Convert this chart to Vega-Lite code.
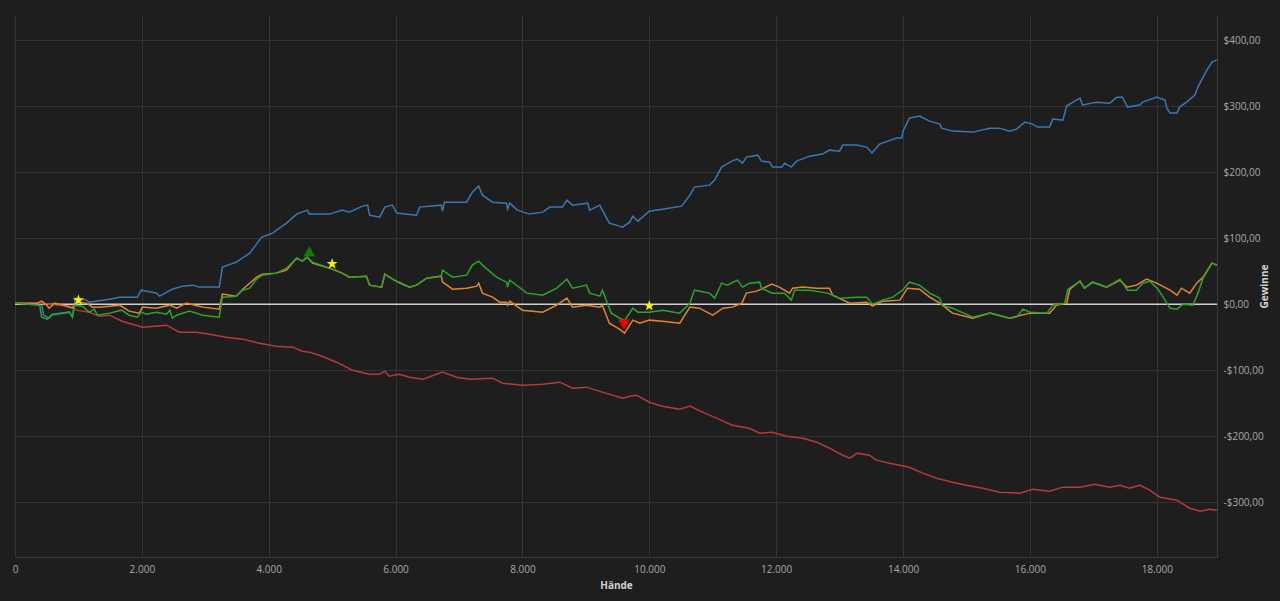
{
  "$schema": "https://vega.github.io/schema/vega-lite/v6.json",
  "width": 1202,
  "height": 542,
  "autosize": {"type": "none"},
  "padding": {"left": 15, "top": 15, "right": 63, "bottom": 44},
  "background": "#1e1e1e",
  "datasets": {
    "showdown": [
      {"hand": 0, "wert": 0}, {"hand": 420, "wert": 0}, {"hand": 450, "wert": -16.7}, {"hand": 540, "wert": -21.2}, {"hand": 590, "wert": -15.2}, {"hand": 860, "wert": -12.1}, {"hand": 905, "wert": -19.7}, {"hand": 950, "wert": 9.1}, {"hand": 1130, "wert": 6.1}, {"hand": 1170, "wert": 3},
      {"hand": 1490, "wert": 7.6}, {"hand": 1650, "wert": 10.6}, {"hand": 1930, "wert": 10.6}, {"hand": 1990, "wert": 21.2}, {"hand": 2230, "wert": 16.7}, {"hand": 2280, "wert": 12.1}, {"hand": 2480, "wert": 22.7}, {"hand": 2640, "wert": 27.3}, {"hand": 2800, "wert": 28.8}, {"hand": 2910, "wert": 25.8},
      {"hand": 3220, "wert": 25.8}, {"hand": 3270, "wert": 56.1}, {"hand": 3490, "wert": 63.6}, {"hand": 3700, "wert": 77.3}, {"hand": 3820, "wert": 92.4}, {"hand": 3890, "wert": 101.5}, {"hand": 4060, "wert": 107.6}, {"hand": 4280, "wert": 122.7}, {"hand": 4440, "wert": 136.4}, {"hand": 4610, "wert": 142.4},
      {"hand": 4640, "wert": 136.4}, {"hand": 4960, "wert": 136.4}, {"hand": 5160, "wert": 142.4}, {"hand": 5270, "wert": 139.4}, {"hand": 5480, "wert": 148.5}, {"hand": 5560, "wert": 150}, {"hand": 5590, "wert": 134.8}, {"hand": 5750, "wert": 131.8}, {"hand": 5830, "wert": 147}, {"hand": 5950, "wert": 150},
      {"hand": 6020, "wert": 137.9}, {"hand": 6330, "wert": 134.8}, {"hand": 6380, "wert": 147}, {"hand": 6720, "wert": 150}, {"hand": 6740, "wert": 140.9}, {"hand": 6770, "wert": 154.5}, {"hand": 7120, "wert": 154.5}, {"hand": 7210, "wert": 169.7}, {"hand": 7310, "wert": 178.8}, {"hand": 7370, "wert": 165.1},
      {"hand": 7530, "wert": 154.5}, {"hand": 7750, "wert": 153}, {"hand": 7765, "wert": 143.9}, {"hand": 7800, "wert": 153}, {"hand": 7920, "wert": 142.4}, {"hand": 8110, "wert": 136.4}, {"hand": 8320, "wert": 139.4}, {"hand": 8430, "wert": 147}, {"hand": 8630, "wert": 147}, {"hand": 8700, "wert": 157.6},
      {"hand": 8790, "wert": 150}, {"hand": 9030, "wert": 153}, {"hand": 9060, "wert": 142.4}, {"hand": 9220, "wert": 150}, {"hand": 9260, "wert": 142.4}, {"hand": 9370, "wert": 122.7}, {"hand": 9530, "wert": 118.2}, {"hand": 9580, "wert": 116.7}, {"hand": 9690, "wert": 124.2}, {"hand": 9740, "wert": 133.3},
      {"hand": 9820, "wert": 125.7}, {"hand": 10000, "wert": 140.9}, {"hand": 10210, "wert": 143.9}, {"hand": 10510, "wert": 148.5}, {"hand": 10640, "wert": 165.1}, {"hand": 10710, "wert": 177.3}, {"hand": 10950, "wert": 180.3}, {"hand": 11030, "wert": 187.9}, {"hand": 11140, "wert": 207.6}, {"hand": 11300, "wert": 216.6},
      {"hand": 11390, "wert": 219.7}, {"hand": 11470, "wert": 213.6}, {"hand": 11530, "wert": 222.7}, {"hand": 11710, "wert": 225.7}, {"hand": 11770, "wert": 216.6}, {"hand": 11900, "wert": 215.1}, {"hand": 11940, "wert": 207.6}, {"hand": 12090, "wert": 207.6}, {"hand": 12130, "wert": 213.6}, {"hand": 12240, "wert": 207.6},
      {"hand": 12320, "wert": 216.6}, {"hand": 12530, "wert": 224.2}, {"hand": 12730, "wert": 227.3}, {"hand": 12840, "wert": 233.3}, {"hand": 13000, "wert": 231.8}, {"hand": 13050, "wert": 240.9}, {"hand": 13270, "wert": 240.9}, {"hand": 13430, "wert": 237.9}, {"hand": 13510, "wert": 228.8}, {"hand": 13630, "wert": 242.4},
      {"hand": 13900, "wert": 251.5}, {"hand": 13980, "wert": 251.5}, {"hand": 14000, "wert": 262.1}, {"hand": 14100, "wert": 281.8}, {"hand": 14260, "wert": 284.8}, {"hand": 14420, "wert": 277.2}, {"hand": 14580, "wert": 272.7}, {"hand": 14610, "wert": 266.6}, {"hand": 14780, "wert": 262.1}, {"hand": 15100, "wert": 260.6},
      {"hand": 15370, "wert": 266.6}, {"hand": 15520, "wert": 266.6}, {"hand": 15680, "wert": 262.1}, {"hand": 15790, "wert": 265.1}, {"hand": 15920, "wert": 275.7}, {"hand": 16040, "wert": 272.7}, {"hand": 16120, "wert": 268.2}, {"hand": 16310, "wert": 268.2}, {"hand": 16360, "wert": 280.3}, {"hand": 16520, "wert": 278.8},
      {"hand": 16580, "wert": 300}, {"hand": 16680, "wert": 306}, {"hand": 16790, "wert": 312.1}, {"hand": 16830, "wert": 301.5}, {"hand": 16970, "wert": 304.5}, {"hand": 17050, "wert": 306}, {"hand": 17260, "wert": 304.5}, {"hand": 17370, "wert": 313.6}, {"hand": 17460, "wert": 313.6}, {"hand": 17540, "wert": 298.5},
      {"hand": 17730, "wert": 301.5}, {"hand": 17780, "wert": 306}, {"hand": 18000, "wert": 313.6}, {"hand": 18130, "wert": 309.1}, {"hand": 18160, "wert": 297}, {"hand": 18210, "wert": 289.4}, {"hand": 18320, "wert": 289.4}, {"hand": 18360, "wert": 298.5}, {"hand": 18470, "wert": 306}, {"hand": 18600, "wert": 316.6},
      {"hand": 18650, "wert": 328.8}, {"hand": 18730, "wert": 343.9}, {"hand": 18790, "wert": 354.5}, {"hand": 18870, "wert": 366.6}, {"hand": 18950, "wert": 369.7}
    ],
    "ohneShowdown": [
      {"hand": 0, "wert": 1.5}, {"hand": 390, "wert": 1.5}, {"hand": 700, "wert": -1.5}, {"hand": 905, "wert": -3}, {"hand": 970, "wert": -9.1}, {"hand": 1170, "wert": -12.1}, {"hand": 1330, "wert": -18.2}, {"hand": 1490, "wert": -16.7}, {"hand": 1690, "wert": -25.8}, {"hand": 2010, "wert": -34.8},
      {"hand": 2390, "wert": -31.8}, {"hand": 2590, "wert": -42.4}, {"hand": 2860, "wert": -42.4}, {"hand": 3070, "wert": -45.5}, {"hand": 3330, "wert": -50}, {"hand": 3590, "wert": -53}, {"hand": 3850, "wert": -59.1}, {"hand": 4120, "wert": -63.6}, {"hand": 4380, "wert": -65.1}, {"hand": 4530, "wert": -71.2},
      {"hand": 4640, "wert": -72.7}, {"hand": 4800, "wert": -77.3}, {"hand": 5070, "wert": -87.9}, {"hand": 5320, "wert": -100}, {"hand": 5590, "wert": -106.1}, {"hand": 5750, "wert": -106.1}, {"hand": 5830, "wert": -101.5}, {"hand": 5900, "wert": -109.1}, {"hand": 6060, "wert": -106.1}, {"hand": 6220, "wert": -110.6},
      {"hand": 6430, "wert": -113.6}, {"hand": 6740, "wert": -103}, {"hand": 6960, "wert": -110.6}, {"hand": 7170, "wert": -113.6}, {"hand": 7530, "wert": -112.1}, {"hand": 7690, "wert": -119.7}, {"hand": 8000, "wert": -122.7}, {"hand": 8320, "wert": -121.2}, {"hand": 8590, "wert": -118.2}, {"hand": 8790, "wert": -127.3},
      {"hand": 9010, "wert": -125.7}, {"hand": 9260, "wert": -133.3}, {"hand": 9580, "wert": -142.4}, {"hand": 9690, "wert": -139.4}, {"hand": 9800, "wert": -137.9}, {"hand": 10000, "wert": -148.5}, {"hand": 10210, "wert": -154.5}, {"hand": 10480, "wert": -159.1}, {"hand": 10640, "wert": -154.5}, {"hand": 10840, "wert": -163.6},
      {"hand": 11060, "wert": -172.7}, {"hand": 11310, "wert": -183.3}, {"hand": 11580, "wert": -187.9}, {"hand": 11740, "wert": -195.4}, {"hand": 11940, "wert": -193.9}, {"hand": 12160, "wert": -200}, {"hand": 12420, "wert": -203}, {"hand": 12640, "wert": -209.1}, {"hand": 12840, "wert": -218.2}, {"hand": 13050, "wert": -228.8},
      {"hand": 13160, "wert": -233.3}, {"hand": 13280, "wert": -225.7}, {"hand": 13470, "wert": -228.8}, {"hand": 13580, "wert": -236.3}, {"hand": 13790, "wert": -240.9}, {"hand": 14100, "wert": -247}, {"hand": 14310, "wert": -256}, {"hand": 14530, "wert": -263.6}, {"hand": 14780, "wert": -269.7}, {"hand": 15000, "wert": -274.2},
      {"hand": 15260, "wert": -278.8}, {"hand": 15520, "wert": -284.8}, {"hand": 15840, "wert": -286.3}, {"hand": 16040, "wert": -280.3}, {"hand": 16310, "wert": -283.3}, {"hand": 16520, "wert": -277.2}, {"hand": 16790, "wert": -277.2}, {"hand": 17020, "wert": -272.7}, {"hand": 17260, "wert": -277.2}, {"hand": 17420, "wert": -274.2},
      {"hand": 17570, "wert": -278.8}, {"hand": 17730, "wert": -274.2}, {"hand": 17890, "wert": -281.8}, {"hand": 18050, "wert": -292.4}, {"hand": 18320, "wert": -297}, {"hand": 18520, "wert": -309.1}, {"hand": 18680, "wert": -313.6}, {"hand": 18840, "wert": -310.6}, {"hand": 18950, "wert": -312.1}
    ],
    "allinEV": [
      {"hand": 0, "wert": 1.5}, {"hand": 350, "wert": 1.5}, {"hand": 420, "wert": 4.5}, {"hand": 500, "wert": -1.5}, {"hand": 540, "wert": -6.1}, {"hand": 620, "wert": 1.5}, {"hand": 750, "wert": -1.5}, {"hand": 905, "wert": -6.1}, {"hand": 970, "wert": 3}, {"hand": 1130, "wert": 1.5},
      {"hand": 1220, "wert": -4.5}, {"hand": 1330, "wert": -4.5}, {"hand": 1490, "wert": -3}, {"hand": 1650, "wert": -1.5}, {"hand": 1800, "wert": -10.6}, {"hand": 1960, "wert": -13.6}, {"hand": 2010, "wert": -4.5}, {"hand": 2230, "wert": -6.1}, {"hand": 2440, "wert": -1.5}, {"hand": 2550, "wert": -6.1},
      {"hand": 2700, "wert": 1.5}, {"hand": 2960, "wert": -4.5}, {"hand": 3220, "wert": -7.6}, {"hand": 3270, "wert": 15.2}, {"hand": 3490, "wert": 12.1}, {"hand": 3590, "wert": 22.7}, {"hand": 3810, "wert": 40.9}, {"hand": 3900, "wert": 45.5}, {"hand": 4120, "wert": 47}, {"hand": 4280, "wert": 51.5},
      {"hand": 4440, "wert": 69.7}, {"hand": 4530, "wert": 65.1}, {"hand": 4610, "wert": 71.2}, {"hand": 4690, "wert": 62.1}, {"hand": 4960, "wert": 54.5}, {"hand": 5160, "wert": 47}, {"hand": 5270, "wert": 40.9}, {"hand": 5540, "wert": 42.4}, {"hand": 5590, "wert": 28.8}, {"hand": 5780, "wert": 25.8},
      {"hand": 5830, "wert": 45.5}, {"hand": 5980, "wert": 36.4}, {"hand": 6220, "wert": 25.8}, {"hand": 6330, "wert": 28.8}, {"hand": 6490, "wert": 39.4}, {"hand": 6720, "wert": 42.4}, {"hand": 6740, "wert": 33.3}, {"hand": 6900, "wert": 22.7}, {"hand": 7120, "wert": 24.2}, {"hand": 7280, "wert": 27.3},
      {"hand": 7310, "wert": 31.8}, {"hand": 7370, "wert": 16.7}, {"hand": 7530, "wert": 10.6}, {"hand": 7640, "wert": 3}, {"hand": 7750, "wert": 3}, {"hand": 7765, "wert": -1.5}, {"hand": 7800, "wert": 4.5}, {"hand": 8000, "wert": -9.1}, {"hand": 8320, "wert": -12.1}, {"hand": 8540, "wert": -1.5},
      {"hand": 8700, "wert": 9.1}, {"hand": 8790, "wert": -4.5}, {"hand": 9010, "wert": -1.5}, {"hand": 9220, "wert": -4.5}, {"hand": 9260, "wert": -1.5}, {"hand": 9370, "wert": -28.8}, {"hand": 9530, "wert": -37.9}, {"hand": 9610, "wert": -43.9}, {"hand": 9740, "wert": -24.2}, {"hand": 9850, "wert": -28.8},
      {"hand": 10000, "wert": -24.2}, {"hand": 10210, "wert": -25.8}, {"hand": 10480, "wert": -28.8}, {"hand": 10640, "wert": -4.5}, {"hand": 10790, "wert": -6.1}, {"hand": 11000, "wert": -16.7}, {"hand": 11160, "wert": -6.1}, {"hand": 11310, "wert": -4.5}, {"hand": 11460, "wert": 1.5}, {"hand": 11530, "wert": 16.7},
      {"hand": 11690, "wert": 19.7}, {"hand": 11770, "wert": 22.7}, {"hand": 11930, "wert": 30.3}, {"hand": 12050, "wert": 25.8}, {"hand": 12210, "wert": 16.7}, {"hand": 12260, "wert": 24.2}, {"hand": 12420, "wert": 25.8}, {"hand": 12640, "wert": 24.2}, {"hand": 12840, "wert": 24.2}, {"hand": 12890, "wert": 13.6},
      {"hand": 13160, "wert": 1.5}, {"hand": 13430, "wert": 3}, {"hand": 13520, "wert": -3}, {"hand": 13680, "wert": 4.5}, {"hand": 13950, "wert": 6.1}, {"hand": 14070, "wert": 24.2}, {"hand": 14260, "wert": 22.7}, {"hand": 14420, "wert": 10.6}, {"hand": 14580, "wert": 1.5}, {"hand": 14780, "wert": -13.6},
      {"hand": 15100, "wert": -21.2}, {"hand": 15370, "wert": -13.6}, {"hand": 15680, "wert": -21.2}, {"hand": 16000, "wert": -13.6}, {"hand": 16310, "wert": -13.6}, {"hand": 16420, "wert": -1.5}, {"hand": 16580, "wert": 1.5}, {"hand": 16630, "wert": 22.7}, {"hand": 16790, "wert": 34.8}, {"hand": 16860, "wert": 24.2},
      {"hand": 16990, "wert": 33.3}, {"hand": 17210, "wert": 25.8}, {"hand": 17420, "wert": 36.4}, {"hand": 17530, "wert": 25.8}, {"hand": 17680, "wert": 28.8}, {"hand": 17840, "wert": 37.9}, {"hand": 18000, "wert": 31.8}, {"hand": 18210, "wert": 21.2}, {"hand": 18320, "wert": 13.6}, {"hand": 18390, "wert": 24.2},
      {"hand": 18520, "wert": 16.7}, {"hand": 18630, "wert": 31.8}, {"hand": 18730, "wert": 40.9}, {"hand": 18870, "wert": 62.1}, {"hand": 18950, "wert": 59.1}
    ],
    "gewinn": [
      {"hand": 0, "wert": 1.5}, {"hand": 390, "wert": -1.5}, {"hand": 420, "wert": -19.7}, {"hand": 510, "wert": -22.7}, {"hand": 570, "wert": -16.7}, {"hand": 650, "wert": -15.2}, {"hand": 860, "wert": -12.1}, {"hand": 905, "wert": -19.7}, {"hand": 940, "wert": -1.5}, {"hand": 1060, "wert": -3},
      {"hand": 1170, "wert": -12.1}, {"hand": 1250, "wert": -7.6}, {"hand": 1300, "wert": -16.7}, {"hand": 1490, "wert": -13.6}, {"hand": 1680, "wert": -9.1}, {"hand": 1800, "wert": -16.7}, {"hand": 1930, "wert": -19.7}, {"hand": 1990, "wert": -12.1}, {"hand": 2070, "wert": -15.2}, {"hand": 2230, "wert": -12.1},
      {"hand": 2390, "wert": -15.2}, {"hand": 2440, "wert": -9.1}, {"hand": 2480, "wert": -21.2}, {"hand": 2550, "wert": -16.7}, {"hand": 2750, "wert": -10.6}, {"hand": 2960, "wert": -16.7}, {"hand": 3220, "wert": -19.7}, {"hand": 3270, "wert": 10.6}, {"hand": 3490, "wert": 12.1}, {"hand": 3590, "wert": 21.2},
      {"hand": 3700, "wert": 24.2}, {"hand": 3810, "wert": 37.9}, {"hand": 3900, "wert": 43.9}, {"hand": 4120, "wert": 47}, {"hand": 4280, "wert": 54.5}, {"hand": 4440, "wert": 69.7}, {"hand": 4530, "wert": 65.1}, {"hand": 4610, "wert": 71.2}, {"hand": 4690, "wert": 63.6}, {"hand": 4960, "wert": 54.5},
      {"hand": 5160, "wert": 47}, {"hand": 5270, "wert": 40.9}, {"hand": 5540, "wert": 42.4}, {"hand": 5590, "wert": 28.8}, {"hand": 5780, "wert": 25.8}, {"hand": 5830, "wert": 45.5}, {"hand": 5980, "wert": 36.4}, {"hand": 6060, "wert": 31.8}, {"hand": 6220, "wert": 25.8}, {"hand": 6330, "wert": 28.8},
      {"hand": 6490, "wert": 39.4}, {"hand": 6720, "wert": 42.4}, {"hand": 6740, "wert": 51.5}, {"hand": 6900, "wert": 40.9}, {"hand": 7120, "wert": 43.9}, {"hand": 7210, "wert": 59.1}, {"hand": 7310, "wert": 65.1}, {"hand": 7370, "wert": 59.1}, {"hand": 7590, "wert": 40.9}, {"hand": 7750, "wert": 33.3},
      {"hand": 7765, "wert": 25.8}, {"hand": 7800, "wert": 36.4}, {"hand": 8070, "wert": 16.7}, {"hand": 8320, "wert": 13.6}, {"hand": 8540, "wert": 24.2}, {"hand": 8700, "wert": 37.9}, {"hand": 8790, "wert": 24.2}, {"hand": 9010, "wert": 28.8}, {"hand": 9060, "wert": 16.7}, {"hand": 9220, "wert": 12.1},
      {"hand": 9260, "wert": 21.2}, {"hand": 9400, "wert": -13.6}, {"hand": 9530, "wert": -21}, {"hand": 9610, "wert": -25}, {"hand": 9740, "wert": -6.1}, {"hand": 9820, "wert": -12.1}, {"hand": 10000, "wert": -12.1}, {"hand": 10210, "wert": -9.1}, {"hand": 10480, "wert": -13.6}, {"hand": 10640, "wert": 1.5},
      {"hand": 10710, "wert": 21.2}, {"hand": 10950, "wert": 16.7}, {"hand": 11030, "wert": 9.1}, {"hand": 11140, "wert": 31.8}, {"hand": 11230, "wert": 28.8}, {"hand": 11390, "wert": 36.4}, {"hand": 11470, "wert": 25.8}, {"hand": 11580, "wert": 31.8}, {"hand": 11740, "wert": 33.3}, {"hand": 11770, "wert": 24.2},
      {"hand": 11940, "wert": 16.7}, {"hand": 12130, "wert": 16.7}, {"hand": 12240, "wert": 6.1}, {"hand": 12290, "wert": 21.2}, {"hand": 12530, "wert": 21.2}, {"hand": 12810, "wert": 16.7}, {"hand": 13000, "wert": 9.1}, {"hand": 13270, "wert": 10.6}, {"hand": 13430, "wert": 10.6}, {"hand": 13520, "wert": 0},
      {"hand": 13680, "wert": 6.1}, {"hand": 13840, "wert": 10.6}, {"hand": 13990, "wert": 21.2}, {"hand": 14100, "wert": 33.3}, {"hand": 14260, "wert": 28.8}, {"hand": 14420, "wert": 16.7}, {"hand": 14580, "wert": 9.1}, {"hand": 14610, "wert": -1.5}, {"hand": 14780, "wert": -6.1}, {"hand": 15100, "wert": -19.7},
      {"hand": 15370, "wert": -13.6}, {"hand": 15680, "wert": -21.2}, {"hand": 15790, "wert": -19.7}, {"hand": 15890, "wert": -7.6}, {"hand": 16000, "wert": -12.1}, {"hand": 16270, "wert": -13.6}, {"hand": 16360, "wert": -1.5}, {"hand": 16550, "wert": 1.5}, {"hand": 16600, "wert": 22.7}, {"hand": 16790, "wert": 34.8},
      {"hand": 16860, "wert": 24.2}, {"hand": 16990, "wert": 33.3}, {"hand": 17210, "wert": 25.8}, {"hand": 17420, "wert": 37.9}, {"hand": 17540, "wert": 21.2}, {"hand": 17680, "wert": 21.2}, {"hand": 17780, "wert": 31.8}, {"hand": 17890, "wert": 34.8}, {"hand": 18020, "wert": 22.7}, {"hand": 18160, "wert": 1.5},
      {"hand": 18210, "wert": -6.1}, {"hand": 18320, "wert": -7.6}, {"hand": 18410, "wert": 0}, {"hand": 18570, "wert": -1.5}, {"hand": 18650, "wert": 16.7}, {"hand": 18730, "wert": 39.4}, {"hand": 18870, "wert": 62.1}, {"hand": 18950, "wert": 59.1}
    ],
    "marken": [
      {"hand": 1000, "wert": 6, "art": "Meilenstein"},
      {"hand": 5000, "wert": 61, "art": "Meilenstein"},
      {"hand": 10000, "wert": -2.5, "art": "Meilenstein"},
      {"hand": 4640, "wert": 80, "art": "Hoch"},
      {"hand": 9600, "wert": -31, "art": "Tief"}
    ]
  },
  "layer": [
    {
      "data": {"name": "showdown"},
      "mark": {"type": "line", "color": "#3b78b3", "strokeWidth": 1.5},
      "encoding": {
        "x": {
          "field": "hand", "type": "quantitative",
          "scale": {"domain": [0, 18950], "nice": false, "zero": false},
          "axis": {
            "title": "Hände",
            "values": [0, 2000, 4000, 6000, 8000, 10000, 12000, 14000, 16000, 18000],
            "labelExpr": "replace(format(datum.value, ','), ',', '.')",
            "labelFlush": false,
            "grid": true, "gridColor": "#333333",
            "domainColor": "#3a3a3a", "ticks": false,
            "labelColor": "#a9a9a9", "labelFontSize": 10, "labelPadding": 7,
            "titleColor": "#d2d2d2", "titleFontSize": 10, "titleFontWeight": "bold", "titlePadding": 6
          }
        },
        "y": {
          "field": "wert", "type": "quantitative",
          "scale": {"domain": [-383, 438], "nice": false, "zero": false},
          "axis": {
            "orient": "right",
            "title": "Gewinne",
            "values": [-300, -200, -100, 0, 100, 200, 300, 400],
            "labelExpr": "(datum.value < 0 ? '-' : '') + '$' + replace(format(abs(datum.value), '.2f'), '.', ',')",
            "grid": true, "gridColor": "#333333",
            "domainColor": "#3a3a3a", "ticks": false,
            "labelColor": "#a9a9a9", "labelFontSize": 10, "labelPadding": 6,
            "titleColor": "#d2d2d2", "titleFontSize": 10, "titleFontWeight": "bold",
            "titleAngle": 270, "titlePadding": 6
          }
        }
      }
    },
    {
      "data": {"values": [{}]},
      "mark": {"type": "rule", "color": "#cfcfcf", "strokeWidth": 1.5},
      "encoding": {"y": {"datum": 0}}
    },
    {
      "data": {"name": "ohneShowdown"},
      "mark": {"type": "line", "color": "#b33b3b", "strokeWidth": 1.5},
      "encoding": {
        "x": {"field": "hand", "type": "quantitative"},
        "y": {"field": "wert", "type": "quantitative"}
      }
    },
    {
      "data": {"name": "allinEV"},
      "mark": {"type": "line", "color": "#e2862d", "strokeWidth": 1.5},
      "encoding": {
        "x": {"field": "hand", "type": "quantitative"},
        "y": {"field": "wert", "type": "quantitative"}
      }
    },
    {
      "data": {"name": "gewinn"},
      "mark": {"type": "line", "color": "#2ea22e", "strokeWidth": 1.5},
      "encoding": {
        "x": {"field": "hand", "type": "quantitative"},
        "y": {"field": "wert", "type": "quantitative"}
      }
    },
    {
      "data": {"name": "marken"},
      "mark": {"type": "point", "filled": true, "opacity": 1, "strokeWidth": 0},
      "encoding": {
        "x": {"field": "hand", "type": "quantitative"},
        "y": {"field": "wert", "type": "quantitative"},
        "shape": {
          "field": "art", "type": "nominal", "legend": null,
          "scale": {
            "domain": ["Meilenstein", "Hoch", "Tief"],
            "range": ["M0,-1L0.2245,-0.309L0.9511,-0.309L0.3633,0.118L0.5878,0.809L0,0.382L-0.5878,0.809L-0.3633,0.118L-0.9511,-0.309L-0.2245,-0.309Z", "triangle-up", "triangle-down"]
          }
        },
        "color": {
          "field": "art", "type": "nominal", "legend": null,
          "scale": {"domain": ["Meilenstein", "Hoch", "Tief"], "range": ["#f7f000", "#0a7d0a", "#ee0000"]}
        },
        "size": {"value": 140}
      }
    }
  ],
  "config": {
    "font": "Open Sans",
    "view": {"stroke": null}
  }
}
